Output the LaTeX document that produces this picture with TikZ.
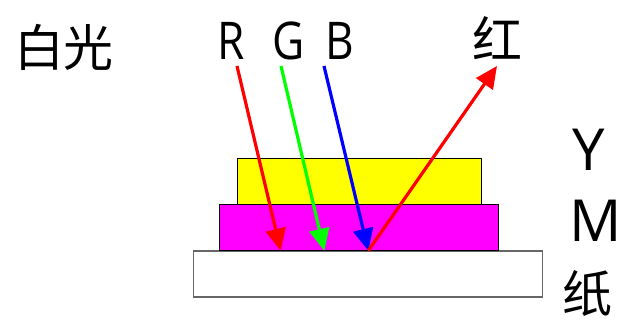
\documentclass[tikz,border=0pt]{standalone}
\usepackage{fontspec}
\setmainfont{Open Sans}
\newfontfamily\cjk{Noto Sans CJK SC}
\usetikzlibrary{arrows.meta}
\definecolor{pRed}{HTML}{FF0000}
\definecolor{pGreen}{HTML}{00FF00}
\definecolor{pBlue}{HTML}{0000FF}
\definecolor{pMag}{HTML}{FF00FF}
\definecolor{pYel}{HTML}{FFFF00}

\begin{document}
\begin{tikzpicture}[
  x=0.5pt, y=-0.5pt,
  layer/.style={draw, line width=0.6pt, inner sep=0pt, outer sep=0pt,
                anchor=north west},
  ray/.style={line width=1.6pt, -{Triangle[length=11pt,width=10pt]}},
  lett/.style={font=\fontsize{26}{26}\selectfont, inner sep=0pt},
  han/.style={font=\cjk\fontsize{25}{25}\selectfont, inner sep=0pt}
]
  \useasboundingbox (0,0) rectangle (623,321);

  % ---------- layers ----------
  \node[layer, draw=black!60, line width=0.8pt, fill=white,
        minimum width=174.5pt, minimum height=23pt] (paper) at (193.3,250.7) {};
  \node[layer, fill=pMag, minimum width=139.5pt, minimum height=23.2pt]
    (layM) at (219.3,204.3) {};
  \node[layer, fill=pYel, minimum width=122pt, minimum height=23pt]
    (layY) at (237.3,158.3) {};

  % ---------- labels ----------
  \node[han] (white) at (64,47) {白光};
  \node[lett] (lblR) at (231,41) {\scalebox{0.85}[1]{R}};
  \node[lett] (lblG) at (289,41) {\scalebox{0.85}[1]{G}};
  \node[lett] (lblB) at (340,41) {\scalebox{0.85}[1]{B}};
  \node[han] (red) at (498,38) {红};
  \node[lett, font=\fontsize{29}{29}\selectfont] (lblY) at (589,150) {Y};
  \node[lett, font=\fontsize{29}{29}\selectfont] (lblM) at (596,221) {M};
  \node[han] (lblP) at (587,294) {纸};

  % ---------- rays ----------
  \coordinate (rS) at (237,66);
  \coordinate (gS) at (281,66);
  \coordinate (bS) at (324,66);
  \coordinate (rE) at (280.7,250.7);
  \coordinate (gE) at (324.3,250.7);
  \coordinate (bE) at (368.3,250.7);
  \coordinate (outE) at (497,66);

  \draw[ray, pRed] (rS) -- (rE);
  \draw[ray, pGreen] (gS) -- (gE);
  \draw[ray, pBlue] (bS) -- (bE);
  \draw[ray, pRed] (bE) -- (outE);
\end{tikzpicture}
\end{document}
